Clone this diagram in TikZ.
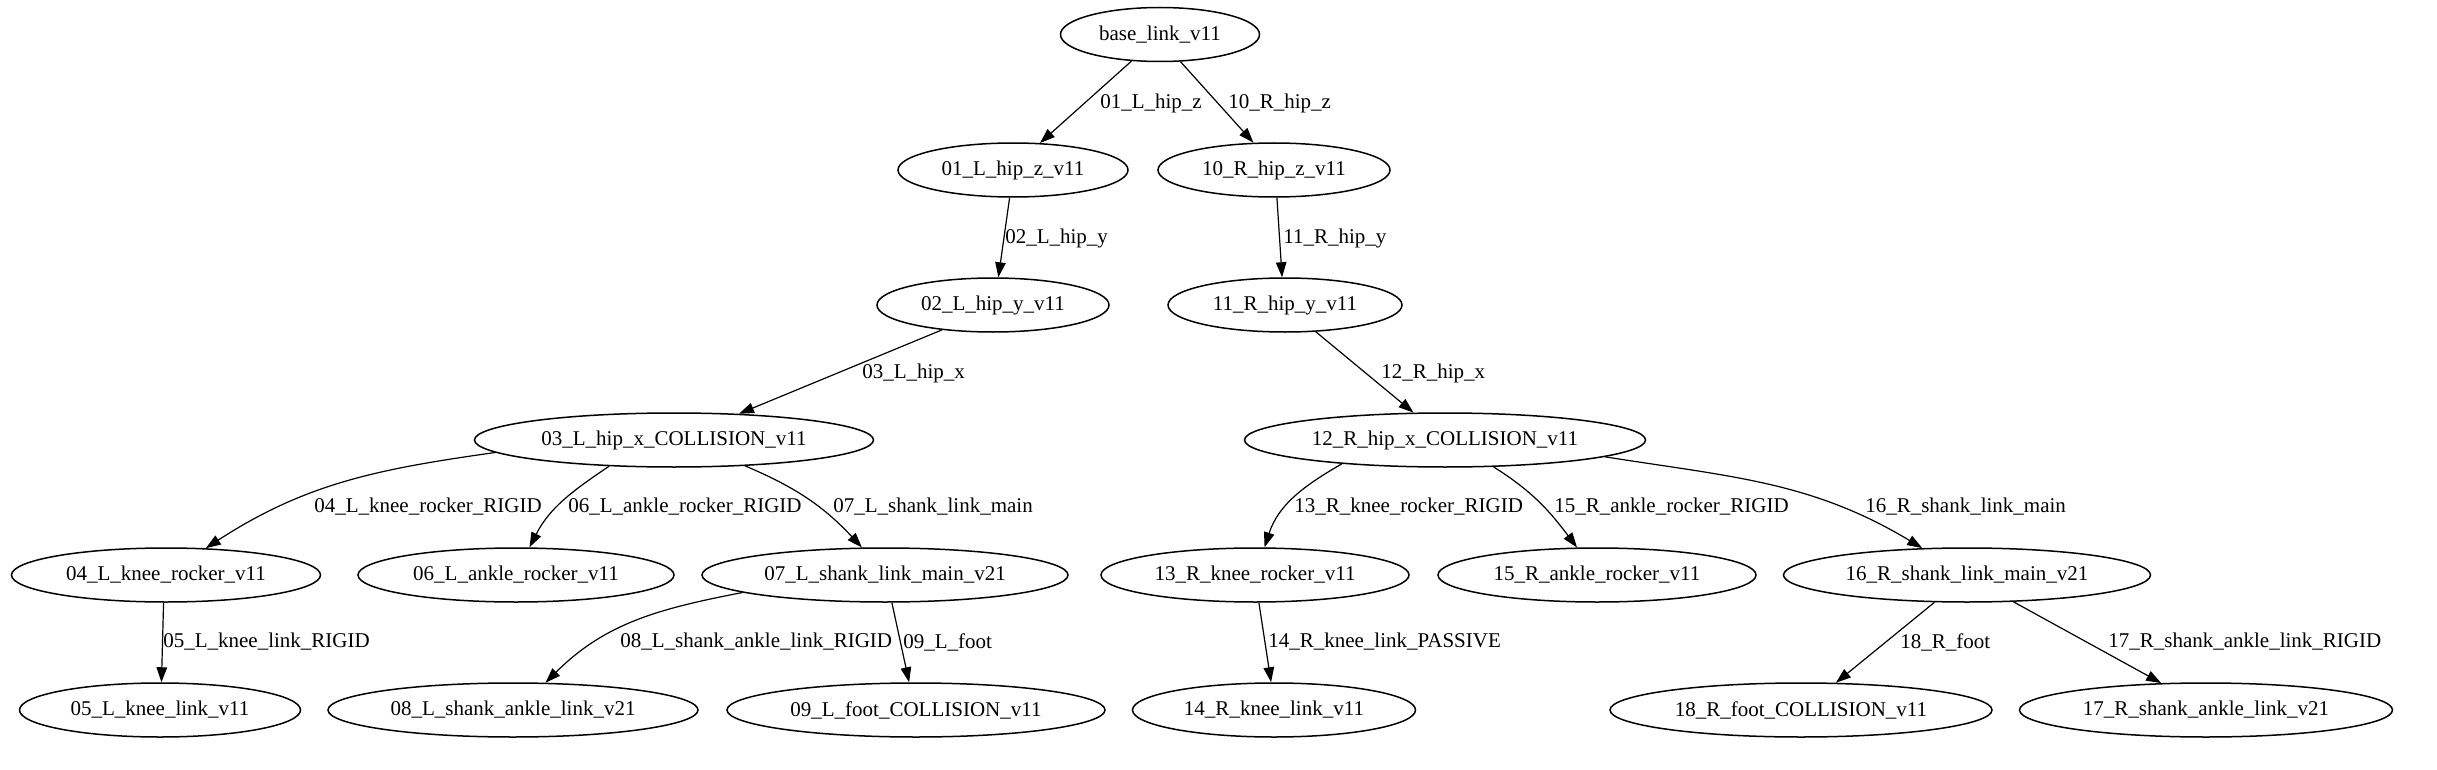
\documentclass[tikz,border=0pt]{standalone}
\usepackage{fontspec}
\setmainfont{Liberation Serif}
\usetikzlibrary{shapes.geometric,arrows.meta}
\begin{document}
\begin{tikzpicture}[x=0.66667pt,y=0.66667pt,
  nd/.style={ellipse,draw,line width=1pt,inner sep=0pt,minimum height=36pt,minimum width=#1*0.66667pt,font=\fontsize{14}{16}\selectfont},
  lb/.style={anchor=west,inner sep=0pt,font=\fontsize{14}{16}\selectfont},
  ed/.style={line width=0.8pt,-{Triangle[length=10pt,width=7pt]}}]
\useasboundingbox (0,0) rectangle (2437,769);
% nodes
\node[nd=199] (base) at (1160,734.5) {base\_link\_v11};
\node[nd=230] (L1) at (1013,599) {01\_L\_hip\_z\_v11};
\node[nd=232] (R1) at (1274,599) {10\_R\_hip\_z\_v11};
\node[nd=232] (L2) at (993,464) {02\_L\_hip\_y\_v11};
\node[nd=234] (R2) at (1285,464) {11\_R\_hip\_y\_v11};
\node[nd=399] (L3) at (674,329) {03\_L\_hip\_x\_COLLISION\_v11};
\node[nd=401] (R3) at (1445,329) {12\_R\_hip\_x\_COLLISION\_v11};
\node[nd=309] (n04) at (166,194) {04\_L\_knee\_rocker\_v11};
\node[nd=316] (n06) at (516,194) {06\_L\_ankle\_rocker\_v11};
\node[nd=366] (n07) at (885,194) {07\_L\_shank\_link\_main\_v21};
\node[nd=308] (n13) at (1255,194) {13\_R\_knee\_rocker\_v11};
\node[nd=318] (n15) at (1597,194) {15\_R\_ankle\_rocker\_v11};
\node[nd=367] (n16) at (1967,194) {16\_R\_shank\_link\_main\_v21};
\node[nd=281] (n05) at (160,59) {05\_L\_knee\_link\_v11};
\node[nd=370] (n08) at (513,59) {08\_L\_shank\_ankle\_link\_v21};
\node[nd=378] (n09) at (916,59) {09\_L\_foot\_COLLISION\_v11};
\node[nd=283] (n14) at (1274,59) {14\_R\_knee\_link\_v11};
\node[nd=382] (n18) at (1801,59) {18\_R\_foot\_COLLISION\_v11};
\node[nd=373] (n17) at (2206,59) {17\_R\_shank\_ankle\_link\_v21};
% edges
\draw[ed] (base.223.5) -- (L1.45);
\draw[ed] (base.307.4) -- (R1.127.9);
\draw[ed] (L1.263.7) -- (L2.79.5);
\draw[ed] (R1.276.3) -- (R2.96.3);
\draw[ed] (L2.206.1) -- (L3.22.9);
\draw[ed] (R2.319) -- (R3.139);
\draw[ed] (L3.184.6) to[out=188,in=33] (n04.34);
\draw[ed] (L3.202.4) to[out=214,in=63] (n06.64.3);
\draw[ed] (L3.340) to[out=337,in=133] (n07.130.4);
\draw[ed] (n04.265.8) -- (n05.87.9);
\draw[ed] (n07.187.2) to[out=191,in=45] (n08.40.2);
\draw[ed] (n07.284.5) -- (n09.104.5);
\draw[ed] (R3.193.5) to[out=210,in=72] (n13.71.6);
\draw[ed] (R3.331) to[out=328,in=127] (n15.126.5);
\draw[ed] (R3.354.4) to[out=351,in=149] (n16.149.6);
\draw[ed] (n13.278.4) -- (n14.96.3);
\draw[ed] (n16.220.2) -- (n18.38.5);
\draw[ed] (n16.330.1) -- (n17.149);
% labels
\node[lb] (l01) at (1100,666) {01\_L\_hip\_z};
\node[lb] (l10) at (1228,666) {10\_R\_hip\_z};
\node[lb] (l02) at (1005,531) {02\_L\_hip\_y};
\node[lb] (l11) at (1283,531) {11\_R\_hip\_y};
\node[lb] (l03) at (862,396) {03\_L\_hip\_x};
\node[lb] (l12) at (1381,396) {12\_R\_hip\_x};
\node[lb] (l04) at (314,262) {04\_L\_knee\_rocker\_RIGID};
\node[lb] (l06) at (568,262) {06\_L\_ankle\_rocker\_RIGID};
\node[lb] (l07) at (833,262) {07\_L\_shank\_link\_main};
\node[lb] (l05) at (163,127) {05\_L\_knee\_link\_RIGID};
\node[lb] (l08) at (620,127) {08\_L\_shank\_ankle\_link\_RIGID};
\node[lb] (l09) at (903,127) {09\_L\_foot};
\node[lb] (l13) at (1294,262) {13\_R\_knee\_rocker\_RIGID};
\node[lb] (l15) at (1554,262) {15\_R\_ankle\_rocker\_RIGID};
\node[lb] (l16) at (1865,262) {16\_R\_shank\_link\_main};
\node[lb] (l14) at (1268,127) {14\_R\_knee\_link\_PASSIVE};
\node[lb] (l18) at (1900,127) {18\_R\_foot};
\node[lb] (l17) at (2108,127) {17\_R\_shank\_ankle\_link\_RIGID};
\end{tikzpicture}
\end{document}
